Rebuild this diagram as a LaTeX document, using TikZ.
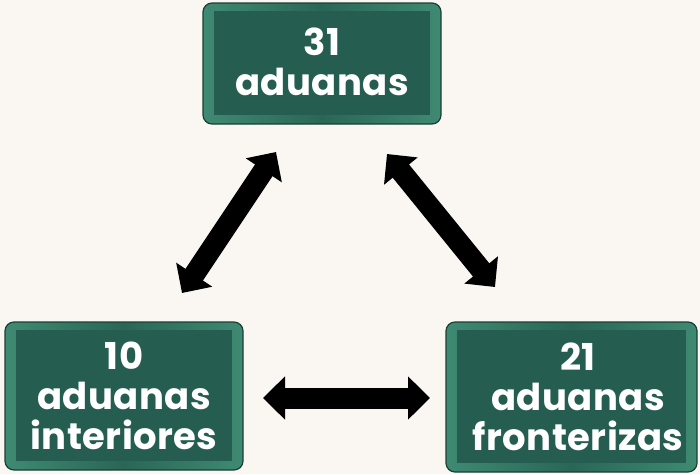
\documentclass[tikz,border=0pt]{standalone}
\usepackage{fontspec}
\setmainfont{Poppins}[UprightFont=* Bold, BoldFont=* Bold, LetterSpace=1.2]
\usetikzlibrary{arrows.meta}
\definecolor{bg}{HTML}{FAF6F2}
\definecolor{boxin}{HTML}{255E50}
\definecolor{boxedge}{HTML}{3F8A72}
\definecolor{boxmid}{HTML}{2A6656}
\definecolor{boxline}{HTML}{1B3F36}
\begin{document}
\begin{tikzpicture}[x=1pt,y=-1pt,
  boxouter/.style={draw=boxline, line width=1.2pt, rounded corners=9pt,
    left color=boxedge, right color=boxedge, middle color=boxmid},
  boxinner/.style={fill=boxin, draw=none},
  boxtext/.style={text=white, align=center, font=\fontsize{37}{40}\selectfont},
  dblarrow/.style={line width=21pt, {Triangle[width=42pt,length=22pt]}-{Triangle[width=42pt,length=22pt]}}
]
\useasboundingbox (0,0) rectangle (700,474);
\fill[bg] (0,0) rectangle (700,474);
% boxes
\path[boxouter] (203,3) rectangle (441,124);
\fill[boxinner] (214,11) rectangle (430,115);
\node[boxtext] (top) at (322,62) {31\\aduanas};
\path[boxouter] (5,322) rectangle (243,470);
\fill[boxinner] (16,330) rectangle (232,461);
\node[boxtext] (left) at (124,396) {10\\aduanas\\interiores};
\path[boxouter] (446,322) rectangle (697,472);
\fill[boxinner] (457,330) rectangle (686,463);
\node[boxtext] (right) at (578,397) {21\\aduanas\\fronterizas};
% arrow anchors
\coordinate (t1) at (276,152);
\coordinate (l1) at (182,293);
\coordinate (t2) at (387,154);
\coordinate (r1) at (495,287);
\coordinate (l2) at (263,398);
\coordinate (r2) at (430,398);
\draw[dblarrow] (t1) -- (l1);
\draw[dblarrow] (t2) -- (r1);
\draw[dblarrow] (l2) -- (r2);
\end{tikzpicture}
\end{document}
